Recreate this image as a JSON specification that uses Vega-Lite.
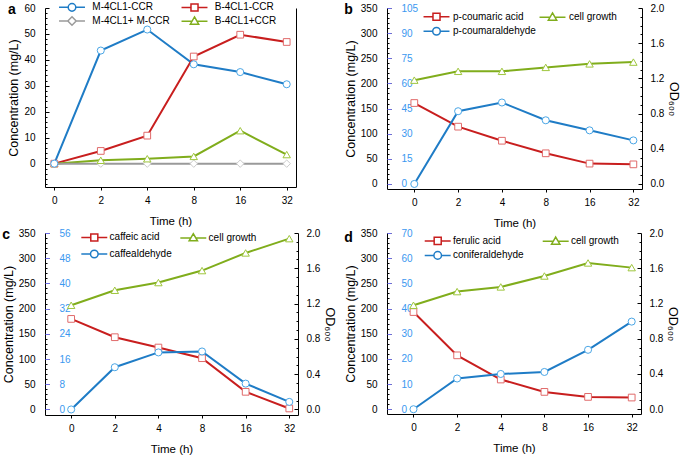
{
  "$schema": "https://vega.github.io/schema/vega-lite/v6.json",
  "padding": {"left": 2, "top": 0, "right": 2, "bottom": 2},
  "background": "white",
  "config": {
    "font": "Liberation Sans",
    "view": {"stroke": null},
    "style": {"guide-title": {"fontWeight": 400}},
    "title": {"anchor": "start", "frame": "bounds", "fontSize": 14, "fontWeight": "bold", "offset": -18, "font": "Liberation Sans", "color": "black"},
    "axis": {"labelFont": "Liberation Sans", "titleFont": "Liberation Sans", "labelFontSize": 10, "titleFontSize": 12.5, "titleFontWeight": 400, "domainColor": "black", "tickColor": "black", "labelColor": "black", "titleColor": "black", "grid": false, "labelOverlap": false, "labelFlush": false, "domainWidth": 1, "tickWidth": 1},
    "axisX": {"tickSize": 3, "labelPadding": 5, "titleFontSize": 11.5, "titleFontWeight": 400, "titlePadding": 10, "labelAngle": 0},
    "axisY": {"titleFontWeight": 400},
    "legend": {"labelFont": "Liberation Sans", "labelFontSize": 10, "labelColor": "black", "direction": "horizontal", "symbolSize": 121, "symbolStrokeWidth": 1.5, "padding": 0, "orient": "none", "columns": 2}
  },
  "datasets": {
    "a": [
      {"t": 0, "s": "M-4CL1-CCR", "v": 0}, {"t": 2, "s": "M-4CL1-CCR", "v": 43.6}, {"t": 4, "s": "M-4CL1-CCR", "v": 51.7}, {"t": 8, "s": "M-4CL1-CCR", "v": 38.3}, {"t": 16, "s": "M-4CL1-CCR", "v": 35.3}, {"t": 32, "s": "M-4CL1-CCR", "v": 30.6},
      {"t": 0, "s": "B-4CL1-CCR", "v": 0}, {"t": 2, "s": "B-4CL1-CCR", "v": 4.9}, {"t": 4, "s": "B-4CL1-CCR", "v": 10.8}, {"t": 8, "s": "B-4CL1-CCR", "v": 41.3}, {"t": 16, "s": "B-4CL1-CCR", "v": 49.7}, {"t": 32, "s": "B-4CL1-CCR", "v": 46.9},
      {"t": 0, "s": "M-4CL1+ M-CCR", "v": 0}, {"t": 2, "s": "M-4CL1+ M-CCR", "v": 0}, {"t": 4, "s": "M-4CL1+ M-CCR", "v": 0}, {"t": 8, "s": "M-4CL1+ M-CCR", "v": 0}, {"t": 16, "s": "M-4CL1+ M-CCR", "v": 0}, {"t": 32, "s": "M-4CL1+ M-CCR", "v": 0},
      {"t": 0, "s": "B-4CL1+CCR", "v": 0}, {"t": 2, "s": "B-4CL1+CCR", "v": 1.3}, {"t": 4, "s": "B-4CL1+CCR", "v": 1.9}, {"t": 8, "s": "B-4CL1+CCR", "v": 2.8}, {"t": 16, "s": "B-4CL1+CCR", "v": 12.7}, {"t": 32, "s": "B-4CL1+CCR", "v": 3.5}
    ],
    "b": [
      {"t": 0, "s": "p-coumaric acid", "v": 161}, {"t": 2, "s": "p-coumaric acid", "v": 114}, {"t": 4, "s": "p-coumaric acid", "v": 86}, {"t": 8, "s": "p-coumaric acid", "v": 61}, {"t": 16, "s": "p-coumaric acid", "v": 40.5}, {"t": 32, "s": "p-coumaric acid", "v": 39},
      {"t": 0, "s": "p-coumaraldehyde", "v": 0}, {"t": 2, "s": "p-coumaraldehyde", "v": 43.4}, {"t": 4, "s": "p-coumaraldehyde", "v": 48.6}, {"t": 8, "s": "p-coumaraldehyde", "v": 38}, {"t": 16, "s": "p-coumaraldehyde", "v": 32}, {"t": 32, "s": "p-coumaraldehyde", "v": 26},
      {"t": 0, "s": "cell growth", "v": 1.18}, {"t": 2, "s": "cell growth", "v": 1.28}, {"t": 4, "s": "cell growth", "v": 1.28}, {"t": 8, "s": "cell growth", "v": 1.325}, {"t": 16, "s": "cell growth", "v": 1.365}, {"t": 32, "s": "cell growth", "v": 1.385}
    ],
    "c": [
      {"t": 0, "s": "caffeic acid", "v": 179.6}, {"t": 2, "s": "caffeic acid", "v": 143.3}, {"t": 4, "s": "caffeic acid", "v": 122.8}, {"t": 8, "s": "caffeic acid", "v": 101.7}, {"t": 16, "s": "caffeic acid", "v": 35}, {"t": 32, "s": "caffeic acid", "v": 2},
      {"t": 0, "s": "caffealdehyde", "v": 0}, {"t": 2, "s": "caffealdehyde", "v": 13.4}, {"t": 4, "s": "caffealdehyde", "v": 18.1}, {"t": 8, "s": "caffealdehyde", "v": 18.4}, {"t": 16, "s": "caffealdehyde", "v": 8.2}, {"t": 32, "s": "caffealdehyde", "v": 2.4},
      {"t": 0, "s": "cell growth", "v": 1.181}, {"t": 2, "s": "cell growth", "v": 1.351}, {"t": 4, "s": "cell growth", "v": 1.438}, {"t": 8, "s": "cell growth", "v": 1.574}, {"t": 16, "s": "cell growth", "v": 1.774}, {"t": 32, "s": "cell growth", "v": 1.936}
    ],
    "d": [
      {"t": 0, "s": "ferulic acid", "v": 193}, {"t": 2, "s": "ferulic acid", "v": 107}, {"t": 4, "s": "ferulic acid", "v": 59}, {"t": 8, "s": "ferulic acid", "v": 34.4}, {"t": 16, "s": "ferulic acid", "v": 24.5}, {"t": 32, "s": "ferulic acid", "v": 23.2},
      {"t": 0, "s": "coniferaldehyde", "v": 0}, {"t": 2, "s": "coniferaldehyde", "v": 12.2}, {"t": 4, "s": "coniferaldehyde", "v": 14}, {"t": 8, "s": "coniferaldehyde", "v": 14.8}, {"t": 16, "s": "coniferaldehyde", "v": 23.6}, {"t": 32, "s": "coniferaldehyde", "v": 34.8},
      {"t": 0, "s": "cell growth", "v": 1.18}, {"t": 2, "s": "cell growth", "v": 1.335}, {"t": 4, "s": "cell growth", "v": 1.388}, {"t": 8, "s": "cell growth", "v": 1.512}, {"t": 16, "s": "cell growth", "v": 1.66}, {"t": 32, "s": "cell growth", "v": 1.607}
    ]
  },
  "columns": 2,
  "spacing": {"row": -1, "column": 8},
  "resolve": {"scale": {"color": "independent", "stroke": "independent", "shape": "independent"}, "legend": {"color": "independent"}},
  "concat": [
    {
      "width": 251, "height": 179,
      "data": {"name": "a"},
      "title": {"text": "a", "offset": -16},
      "encoding": {"x": {"field": "t", "type": "ordinal", "title": "Time (h)", "axis": {"titleFontWeight": 400}, "scale": {"type": "point", "padding": 0.2, "align": 0.5}}},
      "layer": [
        {
          "transform": [{"filter": "datum.s !== 'M-4CL1+ M-CCR'"}],
          "mark": {"type": "line", "strokeWidth": 2},
          "encoding": {
            "y": {"field": "v", "type": "quantitative", "scale": {"domain": [-9, 60], "nice": false, "zero": false}, "axis": {"orient": "left", "values": [0, 10, 20, 30, 40, 50, 60], "tickSize": -4, "labelPadding": 14, "title": "Concentration (mg/L)", "titleFontWeight": 400, "titlePadding": 3}},
            "color": {"field": "s", "type": "nominal", "scale": {"domain": ["M-4CL1-CCR", "B-4CL1-CCR", "M-4CL1+ M-CCR", "B-4CL1+CCR"], "range": ["#1f7cc6", "#c81e1e", "#9a9a9a", "#80ad1c"]},
              "legend": {"orient": "none", "legendX": 20.5, "legendY": -7.5, "columns": 2, "columnPadding": 7.5, "rowPadding": -1, "title": null, "padding": 0, "symbolSize": 121, "labelOffset": 13.8, "symbolStrokeWidth": 1.5,
                "encode": {"symbols": {"update": {"shape": {"signal": "datum.value === 'M-4CL1-CCR' ? 'M-2.36,0H-0.69M0.69,0H2.36M0.69,0A0.69,0.69,0,1,1,-0.69,0A0.69,0.69,0,1,1,0.69,0Z' : datum.value === 'B-4CL1-CCR' ? 'M-2.36,0H-0.64M0.64,0H2.36M-0.64,-0.64H0.64V0.64H-0.64Z' : datum.value === 'M-4CL1+ M-CCR' ? 'M-2.36,0H-0.76M0.76,0H2.36M0,-0.76L0.76,0L0,0.76L-0.76,0Z' : 'M-2.36,0.05H-0.45M0.45,0.05H2.36M0,-0.73L0.76,0.58H-0.76Z'"}, "fill": {"value": "white"}, "fillOpacity": {"value": 1}}}}}}
          }
        },
        {
          "transform": [{"filter": "datum.s === 'M-4CL1+ M-CCR'"}],
          "mark": {"type": "line", "strokeWidth": 2},
          "encoding": {
            "y": {"field": "v", "type": "quantitative", "scale": {"domain": [-9, 60], "nice": false, "zero": false}, "axis": {"orient": "right", "ticks": false, "labels": false, "title": null, "domain": true}},
            "color": {"field": "s", "type": "nominal", "scale": {"domain": ["M-4CL1-CCR", "B-4CL1-CCR", "M-4CL1+ M-CCR", "B-4CL1+CCR"], "range": ["#1f7cc6", "#c81e1e", "#9a9a9a", "#80ad1c"]}}
          }
        },
        {
          "encoding": {
            "y": {"field": "v", "type": "quantitative", "scale": {"domain": [-9, 60], "nice": false, "zero": false}, "axis": {"orient": "left", "values": [-8, -6, -4, -2, 2, 4, 6, 8, 12, 14, 16, 18, 22, 24, 26, 28, 32, 34, 36, 38, 42, 44, 46, 48, 52, 54, 56, 58], "tickSize": -2, "labels": false, "domain": false, "title": null}},
            "stroke": {"field": "s", "type": "nominal", "scale": {"domain": ["M-4CL1-CCR", "B-4CL1-CCR", "M-4CL1+ M-CCR", "B-4CL1+CCR"], "range": ["#4aa6e6", "#e06a6a", "#cccccc", "#9fc63e"]}, "legend": null}
          },
          "layer": [
            {"transform": [{"filter": "datum.s === 'M-4CL1+ M-CCR'"}], "mark": {"type": "point", "shape": "diamond", "size": 55, "fill": "white", "fillOpacity": 1, "opacity": 1, "strokeWidth": 1}},
            {"transform": [{"filter": "datum.s === 'B-4CL1+CCR'"}], "mark": {"type": "point", "shape": "triangle-up", "size": 55, "fill": "white", "fillOpacity": 1, "opacity": 1, "strokeWidth": 1}},
            {"transform": [{"filter": "datum.s === 'B-4CL1-CCR'"}], "mark": {"type": "point", "shape": "square", "size": 45, "fill": "white", "fillOpacity": 1, "opacity": 1, "strokeWidth": 1}},
            {"transform": [{"filter": "datum.s === 'M-4CL1-CCR'"}], "mark": {"type": "point", "shape": "circle", "size": 50, "fill": "white", "fillOpacity": 1, "opacity": 1, "strokeWidth": 1}}
          ]
        }
      ],
      "resolve": {"scale": {"y": "independent"}, "axis": {"y": "independent"}}
    },
    {
      "width": 255, "height": 181,
      "data": {"name": "b"},
      "title": {"text": "b", "offset": -14},
      "encoding": {"x": {"field": "t", "type": "ordinal", "title": "Time (h)", "axis": {"titleFontWeight": 400}, "scale": {"type": "point", "padding": 0.41, "align": 0.76}}},
      "layer": [
        {
          "transform": [{"filter": "datum.s === 'p-coumaric acid'"}],
          "mark": {"type": "line", "strokeWidth": 2},
          "encoding": {
            "y": {"field": "v", "type": "quantitative", "scale": {"domain": [-10, 350], "nice": false, "zero": false}, "axis": {"orient": "left", "values": [0, 50, 100, 150, 200, 250, 300, 350], "tickSize": -4, "labelPadding": 14, "title": "Concentration (mg/L)", "titleFontWeight": 400, "titlePadding": 3}},
            "color": {"field": "s", "type": "nominal", "scale": {"domain": ["p-coumaric acid", "cell growth", "p-coumaraldehyde"], "range": ["#c81e1e", "#80ad1c", "#1f7cc6"]},
              "legend": {"orient": "none", "legendX": 43, "legendY": 1.8, "columns": 2, "columnPadding": 0, "rowPadding": 0, "title": null, "padding": 0, "symbolSize": 121, "labelOffset": 10, "symbolStrokeWidth": 1.5,
                "encode": {"symbols": {"update": {"shape": {"signal": "indexof(datum.value, 'acid') >= 0 ? 'M-2.36,0H-0.64M0.64,0H2.36M-0.64,-0.64H0.64V0.64H-0.64Z' : indexof(datum.value, 'growth') >= 0 ? 'M-2.36,0.05H-0.45M0.45,0.05H2.36M0,-0.73L0.76,0.58H-0.76Z' : 'M-2.36,0H-0.69M0.69,0H2.36M0.69,0A0.69,0.69,0,1,1,-0.69,0A0.69,0.69,0,1,1,0.69,0Z'"}, "fill": {"value": "white"}, "fillOpacity": {"value": 1}}}}}}
          }
        },
        {
          "transform": [{"filter": "datum.s === 'p-coumaric acid'"}],
          "mark": {"type": "point", "shape": "square", "size": 45, "fill": "white", "fillOpacity": 1, "opacity": 1, "strokeWidth": 1},
          "encoding": {
            "y": {"field": "v", "type": "quantitative", "scale": {"domain": [-10, 350], "nice": false, "zero": false}, "axis": {"orient": "left", "values": [10, 20, 30, 40, 60, 70, 80, 90, 110, 120, 130, 140, 160, 170, 180, 190, 210, 220, 230, 240, 260, 270, 280, 290, 310, 320, 330, 340], "tickSize": -2, "labels": false, "domain": false, "title": null}},
            "stroke": {"field": "s", "type": "nominal", "scale": {"domain": ["p-coumaric acid", "cell growth", "p-coumaraldehyde"], "range": ["#e06a6a", "#9fc63e", "#4aa6e6"]}, "legend": null}
          }
        },
        {
          "transform": [{"filter": "datum.s === 'p-coumaraldehyde'"}],
          "encoding": {"y": {"field": "v", "type": "quantitative", "scale": {"domain": [-3, 105], "nice": false, "zero": false}, "axis": {"orient": "right", "offset": -255, "values": [0, 15, 30, 45, 60, 75, 90, 105], "tickSize": 4, "labelPadding": 10, "domain": false, "title": null, "labelColor": "#3a98f0", "tickColor": "#6b6bf0"}}},
          "layer": [
            {"mark": {"type": "line", "strokeWidth": 2}, "encoding": {"color": {"field": "s", "type": "nominal", "scale": {"domain": ["p-coumaric acid", "cell growth", "p-coumaraldehyde"], "range": ["#c81e1e", "#80ad1c", "#1f7cc6"]}}}},
            {"mark": {"type": "point", "shape": "circle", "size": 50, "fill": "white", "fillOpacity": 1, "opacity": 1, "strokeWidth": 1}, "encoding": {"stroke": {"field": "s", "type": "nominal", "scale": {"domain": ["p-coumaric acid", "cell growth", "p-coumaraldehyde"], "range": ["#e06a6a", "#9fc63e", "#4aa6e6"]}, "legend": null}}}
          ]
        },
        {
          "transform": [{"filter": "datum.s === 'cell growth'"}],
          "mark": {"type": "line", "strokeWidth": 2},
          "encoding": {
            "y": {"field": "v", "type": "quantitative", "scale": {"domain": [-0.05714, 2], "nice": false, "zero": false}, "axis": {"orient": "right", "values": [0, 0.4, 0.8, 1.2, 1.6, 2.0], "format": ".1f", "tickSize": -4, "labelPadding": 12, "title": "OD₆₀₀", "titleFontWeight": 400, "titlePadding": 3}},
            "color": {"field": "s", "type": "nominal", "scale": {"domain": ["p-coumaric acid", "cell growth", "p-coumaraldehyde"], "range": ["#c81e1e", "#80ad1c", "#1f7cc6"]}}
          }
        },
        {
          "transform": [{"filter": "datum.s === 'cell growth'"}],
          "mark": {"type": "point", "shape": "triangle-up", "size": 55, "fill": "white", "fillOpacity": 1, "opacity": 1, "strokeWidth": 1},
          "encoding": {
            "y": {"field": "v", "type": "quantitative", "scale": {"domain": [-0.05714, 2], "nice": false, "zero": false}, "axis": {"orient": "right", "values": [0.1, 0.2, 0.3, 0.5, 0.6, 0.7, 0.9, 1.0, 1.1, 1.3, 1.4, 1.5, 1.7, 1.8, 1.9], "tickSize": -2, "labels": false, "domain": false, "title": null}},
            "stroke": {"field": "s", "type": "nominal", "scale": {"domain": ["p-coumaric acid", "cell growth", "p-coumaraldehyde"], "range": ["#e06a6a", "#9fc63e", "#4aa6e6"]}, "legend": null}
          }
        }
      ],
      "resolve": {"scale": {"y": "independent"}, "axis": {"y": "independent"}}
    },
    {
      "width": 253, "height": 182,
      "data": {"name": "c"},
      "title": {"text": "c", "offset": -14},
      "encoding": {"x": {"field": "t", "type": "ordinal", "title": "Time (h)", "axis": {"titleFontWeight": 400}, "scale": {"type": "point", "padding": 0.4, "align": 0.75}}},
      "layer": [
        {
          "transform": [{"filter": "datum.s === 'caffeic acid'"}],
          "mark": {"type": "line", "strokeWidth": 2},
          "encoding": {
            "y": {"field": "v", "type": "quantitative", "scale": {"domain": [-11, 350], "nice": false, "zero": false}, "axis": {"orient": "left", "values": [0, 50, 100, 150, 200, 250, 300, 350], "tickSize": -4, "labelPadding": 14, "title": "Concentration (mg/L)", "titleFontWeight": 400, "titlePadding": 3}},
            "color": {"field": "s", "type": "nominal", "scale": {"domain": ["caffeic acid", "cell growth", "caffealdehyde"], "range": ["#c81e1e", "#80ad1c", "#1f7cc6"]},
              "legend": {"orient": "none", "legendX": 42.8, "legendY": -2.5, "columns": 2, "columnPadding": 5, "rowPadding": 2, "title": null, "padding": 0, "symbolSize": 121, "labelOffset": 8.8, "symbolStrokeWidth": 1.5,
                "encode": {"symbols": {"update": {"shape": {"signal": "indexof(datum.value, 'acid') >= 0 ? 'M-2.36,0H-0.64M0.64,0H2.36M-0.64,-0.64H0.64V0.64H-0.64Z' : indexof(datum.value, 'growth') >= 0 ? 'M-2.36,0.05H-0.45M0.45,0.05H2.36M0,-0.73L0.76,0.58H-0.76Z' : 'M-2.36,0H-0.69M0.69,0H2.36M0.69,0A0.69,0.69,0,1,1,-0.69,0A0.69,0.69,0,1,1,0.69,0Z'"}, "fill": {"value": "white"}, "fillOpacity": {"value": 1}}}}}}
          }
        },
        {
          "transform": [{"filter": "datum.s === 'caffeic acid'"}],
          "mark": {"type": "point", "shape": "square", "size": 45, "fill": "white", "fillOpacity": 1, "opacity": 1, "strokeWidth": 1},
          "encoding": {
            "y": {"field": "v", "type": "quantitative", "scale": {"domain": [-11, 350], "nice": false, "zero": false}, "axis": {"orient": "left", "values": [10, 20, 30, 40, 60, 70, 80, 90, 110, 120, 130, 140, 160, 170, 180, 190, 210, 220, 230, 240, 260, 270, 280, 290, 310, 320, 330, 340], "tickSize": -2, "labels": false, "domain": false, "title": null}},
            "stroke": {"field": "s", "type": "nominal", "scale": {"domain": ["caffeic acid", "cell growth", "caffealdehyde"], "range": ["#e06a6a", "#9fc63e", "#4aa6e6"]}, "legend": null}
          }
        },
        {
          "transform": [{"filter": "datum.s === 'caffealdehyde'"}],
          "encoding": {"y": {"field": "v", "type": "quantitative", "scale": {"domain": [-1.76, 56], "nice": false, "zero": false}, "axis": {"orient": "right", "offset": -253, "values": [0, 8, 16, 24, 32, 40, 48, 56], "tickSize": 4, "labelPadding": 10, "domain": false, "title": null, "labelColor": "#3a98f0", "tickColor": "#6b6bf0"}}},
          "layer": [
            {"mark": {"type": "line", "strokeWidth": 2}, "encoding": {"color": {"field": "s", "type": "nominal", "scale": {"domain": ["caffeic acid", "cell growth", "caffealdehyde"], "range": ["#c81e1e", "#80ad1c", "#1f7cc6"]}}}},
            {"mark": {"type": "point", "shape": "circle", "size": 50, "fill": "white", "fillOpacity": 1, "opacity": 1, "strokeWidth": 1}, "encoding": {"stroke": {"field": "s", "type": "nominal", "scale": {"domain": ["caffeic acid", "cell growth", "caffealdehyde"], "range": ["#e06a6a", "#9fc63e", "#4aa6e6"]}, "legend": null}}}
          ]
        },
        {
          "transform": [{"filter": "datum.s === 'cell growth'"}],
          "mark": {"type": "line", "strokeWidth": 2},
          "encoding": {
            "y": {"field": "v", "type": "quantitative", "scale": {"domain": [-0.06286, 2], "nice": false, "zero": false}, "axis": {"orient": "right", "values": [0, 0.4, 0.8, 1.2, 1.6, 2.0], "format": ".1f", "tickSize": -4, "labelPadding": 12, "title": "OD₆₀₀", "titleFontWeight": 400, "titlePadding": 3}},
            "color": {"field": "s", "type": "nominal", "scale": {"domain": ["caffeic acid", "cell growth", "caffealdehyde"], "range": ["#c81e1e", "#80ad1c", "#1f7cc6"]}}
          }
        },
        {
          "transform": [{"filter": "datum.s === 'cell growth'"}],
          "mark": {"type": "point", "shape": "triangle-up", "size": 55, "fill": "white", "fillOpacity": 1, "opacity": 1, "strokeWidth": 1},
          "encoding": {
            "y": {"field": "v", "type": "quantitative", "scale": {"domain": [-0.06286, 2], "nice": false, "zero": false}, "axis": {"orient": "right", "values": [0.1, 0.2, 0.3, 0.5, 0.6, 0.7, 0.9, 1.0, 1.1, 1.3, 1.4, 1.5, 1.7, 1.8, 1.9], "tickSize": -2, "labels": false, "domain": false, "title": null}},
            "stroke": {"field": "s", "type": "nominal", "scale": {"domain": ["caffeic acid", "cell growth", "caffealdehyde"], "range": ["#e06a6a", "#9fc63e", "#4aa6e6"]}, "legend": null}
          }
        }
      ],
      "resolve": {"scale": {"y": "independent"}, "axis": {"y": "independent"}}
    },
    {
      "width": 254, "height": 181,
      "data": {"name": "d"},
      "title": {"text": "d", "offset": -17},
      "encoding": {"x": {"field": "t", "type": "ordinal", "title": "Time (h)", "axis": {"titleFontWeight": 400}, "scale": {"type": "point", "padding": 0.41, "align": 0.74}}},
      "layer": [
        {
          "transform": [{"filter": "datum.s === 'ferulic acid'"}],
          "mark": {"type": "line", "strokeWidth": 2},
          "encoding": {
            "y": {"field": "v", "type": "quantitative", "scale": {"domain": [-9.5, 350], "nice": false, "zero": false}, "axis": {"orient": "left", "values": [0, 50, 100, 150, 200, 250, 300, 350], "tickSize": -4, "labelPadding": 14, "title": "Concentration (mg/L)", "titleFontWeight": 400, "titlePadding": 3}},
            "color": {"field": "s", "type": "nominal", "scale": {"domain": ["ferulic acid", "cell growth", "coniferaldehyde"], "range": ["#c81e1e", "#80ad1c", "#1f7cc6"]},
              "legend": {"orient": "none", "legendX": 44.2, "legendY": 0.9, "columns": 2, "columnPadding": 15, "rowPadding": 0, "title": null, "padding": 0, "symbolSize": 121, "labelOffset": 8.8, "symbolStrokeWidth": 1.5,
                "encode": {"symbols": {"update": {"shape": {"signal": "indexof(datum.value, 'acid') >= 0 ? 'M-2.36,0H-0.64M0.64,0H2.36M-0.64,-0.64H0.64V0.64H-0.64Z' : indexof(datum.value, 'growth') >= 0 ? 'M-2.36,0.05H-0.45M0.45,0.05H2.36M0,-0.73L0.76,0.58H-0.76Z' : 'M-2.36,0H-0.69M0.69,0H2.36M0.69,0A0.69,0.69,0,1,1,-0.69,0A0.69,0.69,0,1,1,0.69,0Z'"}, "fill": {"value": "white"}, "fillOpacity": {"value": 1}}}}}}
          }
        },
        {
          "transform": [{"filter": "datum.s === 'ferulic acid'"}],
          "mark": {"type": "point", "shape": "square", "size": 45, "fill": "white", "fillOpacity": 1, "opacity": 1, "strokeWidth": 1},
          "encoding": {
            "y": {"field": "v", "type": "quantitative", "scale": {"domain": [-9.5, 350], "nice": false, "zero": false}, "axis": {"orient": "left", "values": [10, 20, 30, 40, 60, 70, 80, 90, 110, 120, 130, 140, 160, 170, 180, 190, 210, 220, 230, 240, 260, 270, 280, 290, 310, 320, 330, 340], "tickSize": -2, "labels": false, "domain": false, "title": null}},
            "stroke": {"field": "s", "type": "nominal", "scale": {"domain": ["ferulic acid", "cell growth", "coniferaldehyde"], "range": ["#e06a6a", "#9fc63e", "#4aa6e6"]}, "legend": null}
          }
        },
        {
          "transform": [{"filter": "datum.s === 'coniferaldehyde'"}],
          "encoding": {"y": {"field": "v", "type": "quantitative", "scale": {"domain": [-1.9, 70], "nice": false, "zero": false}, "axis": {"orient": "right", "offset": -254, "values": [0, 10, 20, 30, 40, 50, 60, 70], "tickSize": 4, "labelPadding": 10, "domain": false, "title": null, "labelColor": "#3a98f0", "tickColor": "#6b6bf0"}}},
          "layer": [
            {"mark": {"type": "line", "strokeWidth": 2}, "encoding": {"color": {"field": "s", "type": "nominal", "scale": {"domain": ["ferulic acid", "cell growth", "coniferaldehyde"], "range": ["#c81e1e", "#80ad1c", "#1f7cc6"]}}}},
            {"mark": {"type": "point", "shape": "circle", "size": 50, "fill": "white", "fillOpacity": 1, "opacity": 1, "strokeWidth": 1}, "encoding": {"stroke": {"field": "s", "type": "nominal", "scale": {"domain": ["ferulic acid", "cell growth", "coniferaldehyde"], "range": ["#e06a6a", "#9fc63e", "#4aa6e6"]}, "legend": null}}}
          ]
        },
        {
          "transform": [{"filter": "datum.s === 'cell growth'"}],
          "mark": {"type": "line", "strokeWidth": 2},
          "encoding": {
            "y": {"field": "v", "type": "quantitative", "scale": {"domain": [-0.05429, 2], "nice": false, "zero": false}, "axis": {"orient": "right", "values": [0, 0.4, 0.8, 1.2, 1.6, 2.0], "format": ".1f", "tickSize": -4, "labelPadding": 12, "title": "OD₆₀₀", "titleFontWeight": 400, "titlePadding": 3}},
            "color": {"field": "s", "type": "nominal", "scale": {"domain": ["ferulic acid", "cell growth", "coniferaldehyde"], "range": ["#c81e1e", "#80ad1c", "#1f7cc6"]}}
          }
        },
        {
          "transform": [{"filter": "datum.s === 'cell growth'"}],
          "mark": {"type": "point", "shape": "triangle-up", "size": 55, "fill": "white", "fillOpacity": 1, "opacity": 1, "strokeWidth": 1},
          "encoding": {
            "y": {"field": "v", "type": "quantitative", "scale": {"domain": [-0.05429, 2], "nice": false, "zero": false}, "axis": {"orient": "right", "values": [0.1, 0.2, 0.3, 0.5, 0.6, 0.7, 0.9, 1.0, 1.1, 1.3, 1.4, 1.5, 1.7, 1.8, 1.9], "tickSize": -2, "labels": false, "domain": false, "title": null}},
            "stroke": {"field": "s", "type": "nominal", "scale": {"domain": ["ferulic acid", "cell growth", "coniferaldehyde"], "range": ["#e06a6a", "#9fc63e", "#4aa6e6"]}, "legend": null}
          }
        }
      ],
      "resolve": {"scale": {"y": "independent"}, "axis": {"y": "independent"}}
    }
  ]
}
